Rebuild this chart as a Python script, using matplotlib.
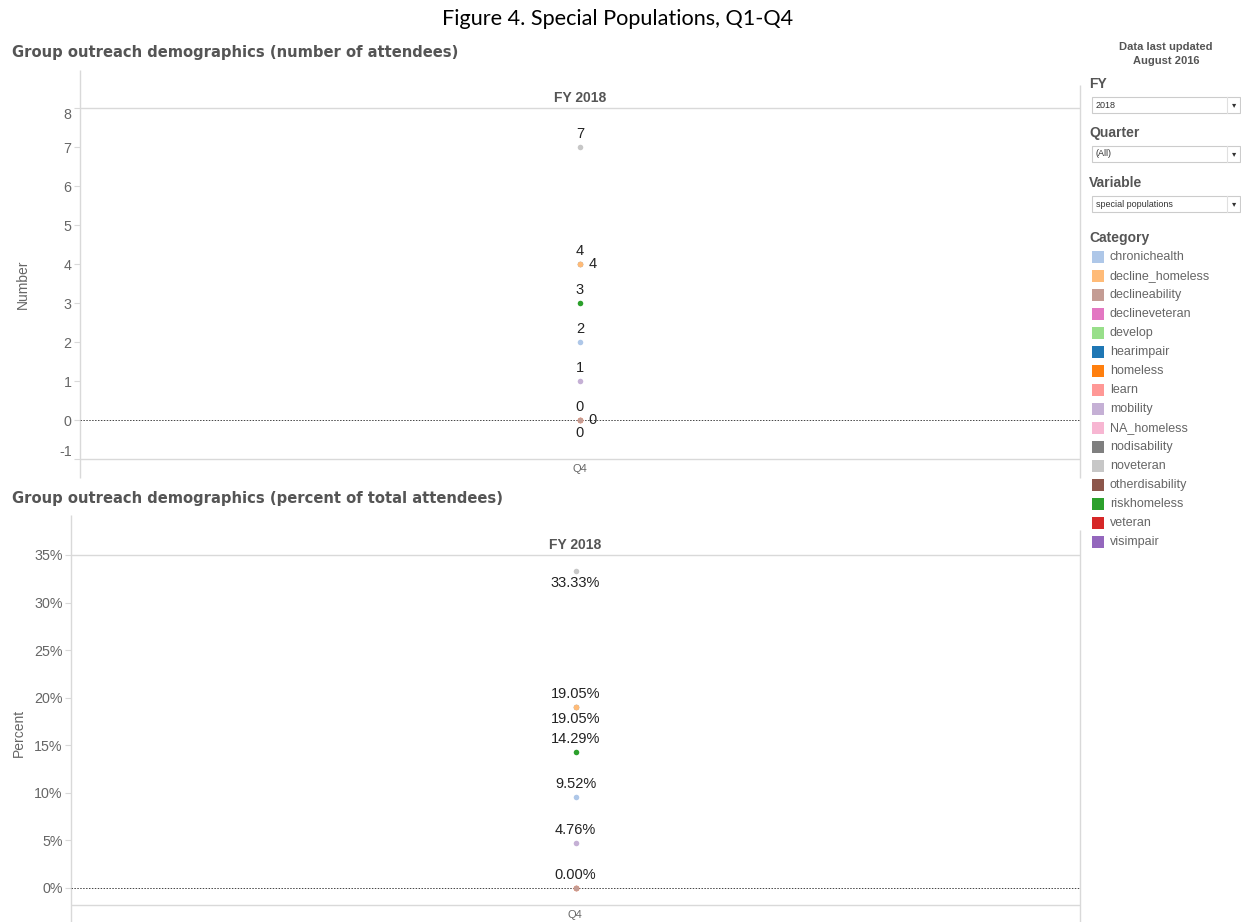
import matplotlib
matplotlib.use("Agg")
import matplotlib.pyplot as plt
from matplotlib.patches import Rectangle

# ---------------- data ----------------
quarter = "Q4"
fy_label = "FY 2018"
# categories drawn at Q4 (drawing order: hidden ones first)
point_cats = ["nodisability", "declineveteran", "homeless", "declineability",
              "mobility", "chronichealth", "riskhomeless", "decline_homeless", "noveteran"]
point_counts = [4, 0, 0, 0, 1, 2, 3, 4, 7]
point_pcts = [19.05, 0.00, 0.00, 0.00, 4.76, 9.52, 14.29, 19.05, 33.33]

legend_cats = ["chronichealth", "decline_homeless", "declineability", "declineveteran",
               "develop", "hearimpair", "homeless", "learn", "mobility", "NA_homeless",
               "nodisability", "noveteran", "otherdisability", "riskhomeless",
               "veteran", "visimpair"]
legend_colors = ["#aec7e8", "#ffbb78", "#c49c94", "#e377c2", "#98df8a", "#1f77b4",
                 "#ff7f0e", "#ff9896", "#c5b0d5", "#f7b6d2", "#7f7f7f", "#c7c7c7",
                 "#8c564b", "#2ca02c", "#d62728", "#9467bd"]
color_of = dict(zip(legend_cats, legend_colors))

num_ticks = [-1, 0, 1, 2, 3, 4, 5, 6, 7, 8]
pct_ticks = [0, 5, 10, 15, 20, 25, 30, 35]

# label placement (offset in pixels) for each point, Tableau-like collision avoidance
num_label_offsets = [(9, 0, "left", "center"), None, (0, -13, "center", "center"),
                     (8, 0, "left", "center"), (0, 13, "center", "center"),
                     (0, 13, "center", "center"), (0, 13, "center", "center"),
                     (0, 13, "center", "center"), (0, 13, "center", "center")]
num_zero_top = (0, 13, "center", "center")
pct_label_offsets = [(0, -12, "center", "center"), None, None,
                     (0, 13, "center", "center"), (0, 13, "center", "center"),
                     (0, 13, "center", "center"), (0, 13, "center", "center"),
                     (0, 13, "center", "center"), (0, -12, "center", "center")]

# ---------------- layout helpers ----------------
W, H = 1241, 922
fig = plt.figure(figsize=(W / 100, H / 100), dpi=100)
fig.patch.set_facecolor("white")

ov = fig.add_axes([0, 0, 1, 1], zorder=0)
ov.set_xlim(0, W)
ov.set_ylim(H, 0)
ov.axis("off")

GRID = "#d9d9d9"
TXT = "#555555"
TICK = "#666666"
SANS = "Liberation Sans"


def ax_px(left, top, right, bottom, z=2):
    a = fig.add_axes([left / W, 1 - bottom / H, (right - left) / W, (bottom - top) / H], zorder=z)
    a.patch.set_alpha(0)
    return a


def hline(y, x0, x1, c=GRID, lw=1.0):
    ov.plot([x0, x1], [y, y], color=c, lw=lw, solid_capstyle="butt")


def vline(x, y0, y1, c=GRID, lw=1.0):
    ov.plot([x, x], [y0, y1], color=c, lw=lw, solid_capstyle="butt")


# ---------------- titles ----------------
ov.text(618, 19, "Figure 4. Special Populations, Q1-Q4", ha="center", va="center",
        fontsize=15.6, family="Lato", color="black")
ov.text(12, 53, "Group outreach demographics (number of attendees)", ha="left", va="center",
        fontsize=10.6, family="DejaVu Sans", fontweight="bold", color=TXT)
ov.text(12, 498, "Group outreach demographics (percent of total attendees)", ha="left",
        va="center", fontsize=10.6, family="DejaVu Sans", fontweight="bold", color=TXT)

# ---------------- frame lines ----------------
# top panel
vline(80, 70, 478)
vline(1080, 85, 478)
hline(108, 80, 1080)
hline(459, 80, 1080)
# bottom panel
vline(71, 515, 922)
vline(1080, 530, 922)
hline(555, 71, 1080)
hline(905, 71, 1080)

ov.text(580, 98, fy_label, ha="center", va="center", fontsize=10, family=SANS,
        fontweight="bold", color=TXT)
ov.text(575, 545, fy_label, ha="center", va="center", fontsize=10, family=SANS,
        fontweight="bold", color=TXT)
ov.text(580, 469, quarter, ha="center", va="center", fontsize=8, family=SANS, color=TICK)
ov.text(575, 915, quarter, ha="center", va="center", fontsize=8, family=SANS, color=TICK)

ov.text(23, 284, "Number", rotation=90, ha="center", va="center", fontsize=10, family=SANS,
        color=TICK)
ov.text(19, 733, "Percent", rotation=90, ha="center", va="center", fontsize=10, family=SANS,
        color=TICK)


def style_axis(a, ticks, labels, ylim):
    a.set_xlim(-1, 1)
    a.set_ylim(*ylim)
    for s in a.spines.values():
        s.set_visible(False)
    a.set_xticks([])
    a.set_yticks(ticks)
    a.set_yticklabels(labels)
    a.tick_params(axis="y", length=4, width=0.8, color=GRID, labelcolor=TICK,
                  labelsize=10.3, pad=2)
    for lab in a.get_yticklabels():
        lab.set_family(SANS)
    a.axhline(0, color="#444444", lw=0.7, ls=(0, (1.5, 1.5)), zorder=1)


# ---------------- top panel ----------------
ax1 = ax_px(80, 108, 1080, 459)
style_axis(ax1, num_ticks, [str(t) for t in num_ticks], (-1, 8))
tl = ax1.get_yticklabels()
tl[-1].set_va("top")
tl[0].set_va("bottom")
xs = [0] * len(point_cats)
for i, (cat, v) in enumerate(zip(point_cats, point_counts)):
    ax1.scatter([xs[i]], [v], s=16, color=color_of[cat], zorder=3, linewidths=0)
    off = num_label_offsets[i]
    if off is not None:
        ax1.annotate(str(v), (xs[i], v), xytext=(off[0], off[1]), textcoords="offset pixels",
                     ha=off[2], va=off[3], fontsize=10.5, family=SANS, color="#222222",
                     zorder=4)
# third zero label (above)
ax1.annotate("0", (0, 0), xytext=num_zero_top[:2], textcoords="offset pixels",
             ha="center", va="center", fontsize=10.5, family=SANS, color="#222222")

# ---------------- bottom panel ----------------
ax2 = ax_px(71, 555, 1080, 905)
style_axis(ax2, pct_ticks, [f"{t}%" for t in pct_ticks], (-1.79, 35))
for i, (cat, v) in enumerate(zip(point_cats, point_pcts)):
    ax2.scatter([0], [v], s=16, color=color_of[cat], zorder=3, linewidths=0)
    off = pct_label_offsets[i]
    if off is not None:
        ax2.annotate(f"{v:.2f}%", (0, v), xytext=(off[0], off[1]), textcoords="offset pixels",
                     ha=off[2], va=off[3], fontsize=10.5, family=SANS, color="#222222",
                     zorder=4)

# ---------------- right side panel ----------------
ov.text(1166, 47, "Data last updated", ha="center", va="center", fontsize=8, family=SANS,
        fontweight="bold", color=TXT)
ov.text(1166, 61, "August 2016", ha="center", va="center", fontsize=8, family=SANS,
        fontweight="bold", color=TXT)

filters = [("FY", 84, "2018"), ("Quarter", 133, "(All)"), ("Variable", 183, "special populations")]
for title, y, val in filters:
    ov.text(1089, y, title, ha="left", va="center", fontsize=10, family=SANS,
            fontweight="bold", color=TXT)
    ov.add_patch(Rectangle((1092, y + 13), 148, 16, facecolor="white", edgecolor="#cccccc",
                           lw=0.8))
    ov.text(1096, y + 21, val, ha="left", va="center", fontsize=6.5, family=SANS,
            color="#333333")
    ov.plot([1227, 1227], [y + 13, y + 29], color="#e0e0e0", lw=0.8)
    ov.text(1234, y + 21, "\u25BE", ha="center", va="center", fontsize=6, family="DejaVu Sans",
            color="#333333")

ov.text(1089, 238, "Category", ha="left", va="center", fontsize=10, family=SANS,
        fontweight="bold", color=TXT)
for i, (cat, col) in enumerate(zip(legend_cats, legend_colors)):
    y = 257 + i * 19
    ov.add_patch(Rectangle((1092, y - 6), 12, 12, facecolor=col, edgecolor="none"))
    ov.text(1110, y, cat, ha="left", va="center", fontsize=9, family=SANS, color=TICK)

fig.savefig("out.png", dpi=100, facecolor="white")
